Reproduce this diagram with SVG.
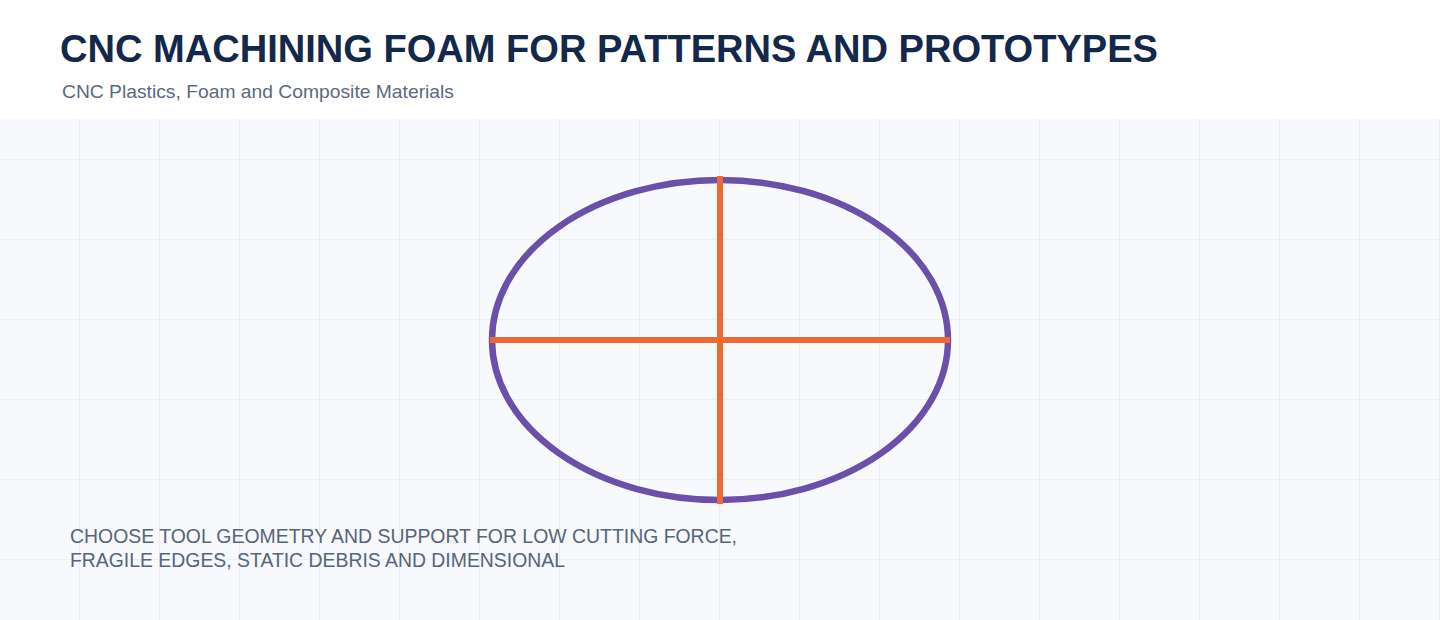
<svg xmlns="http://www.w3.org/2000/svg" width="1440" height="620" viewBox="0 0 1440 620">
<defs>
<pattern id="grid" x="0" y="0" width="80" height="80" patternUnits="userSpaceOnUse">
<path d="M80 0V80M0 80H80" fill="none" stroke="#e1e5ec" stroke-width="1.2"/>
</pattern>
<style>
.title{font-family:"Liberation Sans",Arial,sans-serif;font-weight:bold;font-size:38px;fill:#13284a}
.sub{font-family:"Liberation Sans",Arial,sans-serif;font-size:19px;fill:#5b6a7f}
.note{font-family:"Liberation Sans",Arial,sans-serif;font-size:19.5px;fill:#56657a}
.axis{stroke:#ec6a32;stroke-width:6;fill:none}
</style>
</defs>
<rect width="1440" height="620" fill="#ffffff"/>
<rect x="0" y="119" width="1440" height="501" fill="#f7f9fc"/>
<rect x="0" y="119" width="1440" height="501" fill="url(#grid)"/>
<text class="title" x="60" y="62" textLength="1098" lengthAdjust="spacingAndGlyphs">CNC MACHINING FOAM FOR PATTERNS AND PROTOTYPES</text>
<text class="sub" x="62" y="98" textLength="392" lengthAdjust="spacingAndGlyphs">CNC Plastics, Foam and Composite Materials</text>
<g id="ellipse-node">
<ellipse cx="720" cy="340" rx="228" ry="160" fill="none" stroke="#6c4fab" stroke-width="6.5"/>
</g>
<g id="connectors">
<line class="axis" x1="490" y1="340" x2="950" y2="340"/>
<line class="axis" x1="720" y1="176" x2="720" y2="504"/>
</g>
<g id="note">
<text class="note" x="70" y="543" textLength="667" lengthAdjust="spacingAndGlyphs">CHOOSE TOOL GEOMETRY AND SUPPORT FOR LOW CUTTING FORCE,</text>
<text class="note" x="70" y="567" textLength="495" lengthAdjust="spacingAndGlyphs">FRAGILE EDGES, STATIC DEBRIS AND DIMENSIONAL</text>
</g>
</svg>
